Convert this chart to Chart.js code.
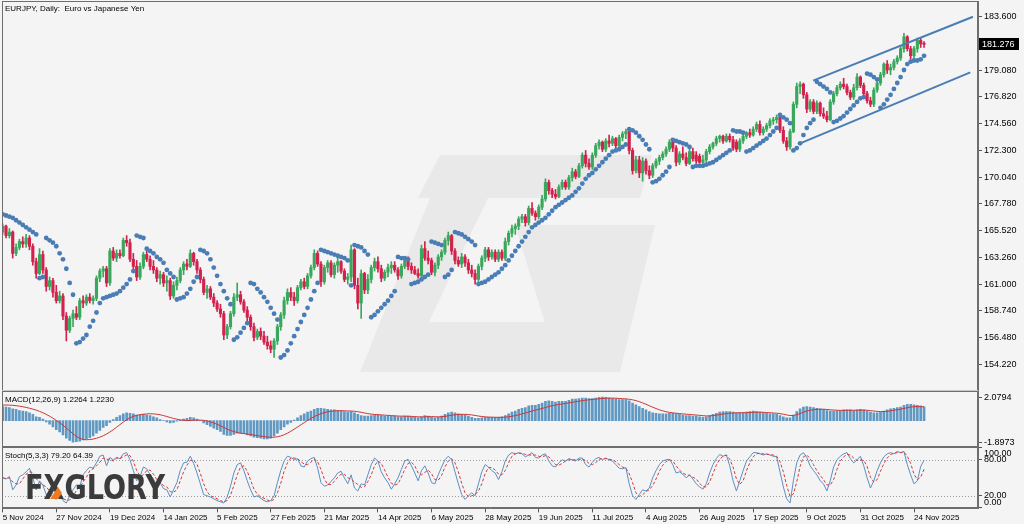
<!DOCTYPE html>
<html>
<head>
<meta charset="utf-8">
<script src="https://cdn.jsdelivr.net/npm/chart.js@4/dist/chart.umd.min.js"></script>
<style>
  html, body { margin: 0; padding: 0; background: #f4f4f4; }
  #wrap { position: relative; width: 1024px; height: 524px; }
</style>
</head>
<body>
<div id="wrap"><canvas id="myChart" width="1024" height="524"></canvas></div>
<script>
// EURJPY daily, 5 Nov 2024 .. 27 Nov 2025 (one entry per bar)
const tickLabels = ['5 Nov 2024', '27 Nov 2024', '19 Dec 2024', '14 Jan 2025', '5 Feb 2025', '27 Feb 2025',
    '21 Mar 2025', '14 Apr 2025', '6 May 2025', '28 May 2025', '19 Jun 2025', '11 Jul 2025', '4 Aug 2025',
    '26 Aug 2025', '17 Sep 2025', '9 Oct 2025', '31 Oct 2025', '24 Nov 2025'];
const barsPerLabel = 16;
const priceTicks = [183.6, 181.34, 179.08, 176.82, 174.56, 172.3, 170.04, 167.78, 165.52, 163.26, 161.0, 158.74, 156.48, 154.22];
const macdTicks = [2.0794, -1.8973];
const stochTicks = [100, 80, 20, 0];
const stochLevels = [80, 20];

const opens = [
    165.4, 165.9, 165.1, 165.4, 163.6, 164.1, 164.6, 164.4, 164.9, 164.2,
    162.9, 161.9, 163.5, 162.2, 160.8, 161.3, 160.3, 159.6, 160.0, 158.3,
    157.1, 158.1, 158.5, 158.2, 159.6, 159.4, 159.9, 159.6, 159.8, 161.5,
    162.1, 162.3, 161.1, 163.8, 163.2, 163.6, 163.4, 164.7, 164.5, 163.1,
    162.5, 161.6, 162.5, 163.5, 163.1, 162.5, 162.2, 161.5, 161.8, 161.1,
    161.3, 160.0, 160.9, 161.3, 162.2, 162.7, 162.5, 163.6, 162.9, 162.2,
    161.4, 160.3, 160.6, 159.9, 159.4, 158.9, 158.5, 156.7, 157.4, 158.5,
    159.9, 160.1, 159.5, 158.8, 158.2, 157.4, 156.5, 157.0, 156.6, 156.1,
    155.8, 155.5, 156.2, 157.4, 158.4, 159.6, 160.3, 159.9, 159.6, 160.7,
    161.2, 160.8, 161.7, 162.4, 163.6, 162.7, 161.2, 162.4, 162.8, 161.8,
    162.6, 162.9, 162.1, 161.4, 161.6, 163.9, 160.9, 159.4, 161.9, 160.5,
    161.4, 162.4, 162.9, 162.3, 161.5, 162.0, 162.4, 162.6, 162.2, 161.7,
    162.5, 163.0, 162.5, 162.2, 161.9, 161.7, 164.0, 163.2, 163.0, 162.0,
    162.6, 163.3, 163.7, 164.7, 165.1, 163.8, 163.0, 162.7, 163.3, 162.8,
    162.2, 161.9, 161.4, 162.5, 163.2, 163.9, 163.3, 163.7, 163.1, 163.7,
    163.2, 164.6, 165.3, 165.7, 165.9, 166.5, 166.7, 166.2, 167.4, 167.0,
    166.7, 167.5, 168.2, 169.6, 168.9, 168.6, 168.4, 169.2, 169.6, 169.2,
    170.0, 170.5, 170.1, 171.0, 171.9, 171.2, 170.9, 171.9, 172.7, 173.0,
    172.4, 173.1, 172.9, 173.3, 172.7, 173.4, 173.7, 173.9, 172.3, 170.6,
    171.5, 170.4, 171.4, 170.6, 170.2, 171.0, 171.4, 171.7, 172.0, 172.4,
    173.0, 172.5, 171.3, 172.0, 171.7, 171.2, 172.2, 171.9, 171.8, 171.3,
    171.5, 172.2, 172.6, 172.9, 173.3, 173.5, 173.1, 173.5, 173.2, 173.0,
    172.4, 173.1, 173.5, 173.8, 173.6, 174.1, 174.5, 173.8, 174.1, 174.4,
    174.8, 174.9, 175.1, 174.0, 173.1, 172.6, 173.9, 176.2, 177.7, 177.9,
    177.0, 175.8, 176.4, 175.6, 176.3, 175.4, 175.2, 174.9, 176.4, 177.1,
    177.6, 177.9, 177.7, 177.2, 176.8, 177.6, 178.5, 177.8, 177.1, 176.5,
    176.2, 177.4, 178.0, 178.7, 179.6, 179.1, 179.3, 179.8, 180.1, 180.9,
    181.9, 180.9, 180.3, 180.9, 181.6, 181.3
];
const highs = [
    166.1, 166.0, 165.7, 165.5, 164.4, 164.8, 165.0, 165.2, 165.1, 164.4,
    163.2, 164.0, 163.8, 162.4, 161.6, 161.5, 160.9, 160.4, 160.2, 158.6,
    158.3, 158.8, 159.1, 159.8, 160.0, 160.1, 160.2, 160.0, 161.7, 162.3,
    162.5, 162.5, 164.0, 164.1, 163.9, 163.9, 164.9, 165.1, 164.8, 163.6,
    163.0, 162.8, 163.7, 163.9, 163.4, 163.0, 162.4, 162.1, 162.0, 161.7,
    161.5, 161.2, 161.6, 162.4, 162.9, 163.1, 163.9, 163.7, 163.1, 162.4,
    161.6, 160.9, 160.8, 160.2, 159.6, 159.3, 158.7, 157.6, 158.7, 160.2,
    161.1, 160.4, 159.7, 159.1, 158.4, 157.7, 157.2, 157.3, 157.0, 156.6,
    156.2, 156.4, 157.6, 158.6, 159.9, 160.6, 160.7, 160.3, 160.9, 161.4,
    161.5, 161.9, 162.6, 163.9, 163.8, 162.9, 162.6, 163.0, 163.0, 162.8,
    163.2, 163.0, 162.3, 161.9, 164.3, 164.0, 161.5, 162.2, 162.0, 161.8,
    162.6, 163.2, 163.3, 162.6, 162.2, 162.7, 162.9, 162.9, 162.4, 162.7,
    163.3, 163.3, 162.8, 162.5, 162.3, 164.3, 164.6, 163.8, 163.2, 162.8,
    163.5, 163.9, 164.9, 165.4, 165.2, 164.0, 163.3, 163.6, 163.5, 163.1,
    162.6, 162.2, 162.7, 163.4, 164.1, 164.1, 163.9, 163.9, 163.9, 163.9,
    164.9, 165.5, 166.0, 166.1, 166.7, 166.9, 166.9, 167.6, 167.9, 167.2,
    167.7, 168.5, 169.9, 169.8, 169.1, 169.0, 169.4, 169.8, 169.8, 170.2,
    170.8, 170.7, 171.2, 172.1, 172.3, 171.6, 172.1, 172.9, 173.2, 173.1,
    173.3, 173.6, 173.5, 173.4, 173.6, 173.9, 174.1, 174.1, 172.5, 171.8,
    171.8, 171.7, 171.6, 171.0, 171.2, 171.6, 171.9, 172.2, 172.6, 173.2,
    173.1, 172.7, 172.2, 172.6, 172.1, 172.4, 172.5, 172.2, 172.0, 171.9,
    172.4, 172.8, 173.0, 173.5, 173.6, 173.6, 173.7, 173.7, 173.5, 173.2,
    173.3, 173.7, 173.9, 174.1, 174.3, 174.7, 174.8, 174.3, 174.6, 175.0,
    175.1, 175.3, 175.3, 174.3, 173.4, 174.1, 176.4, 178.0, 178.1, 178.0,
    177.2, 176.6, 176.6, 176.5, 176.4, 175.9, 175.6, 176.6, 177.3, 177.8,
    178.1, 178.4, 177.9, 177.4, 177.9, 178.8, 178.6, 178.0, 177.3, 176.8,
    177.6, 178.2, 178.9, 179.7, 179.9, 179.6, 180.0, 180.3, 181.1, 182.2,
    182.0, 181.1, 181.1, 181.8, 181.8, 181.5
];
const lows = [
    165.2, 164.9, 164.9, 163.2, 163.4, 163.9, 164.1, 164.1, 163.9, 162.6,
    161.5, 161.8, 161.9, 160.4, 160.5, 159.9, 159.4, 159.4, 158.0, 156.2,
    156.9, 157.4, 158.0, 158.0, 159.0, 159.2, 159.4, 159.3, 159.6, 161.2,
    161.6, 160.8, 160.9, 163.0, 162.9, 163.2, 163.3, 164.2, 162.9, 162.2,
    161.3, 161.4, 162.3, 162.9, 162.2, 161.9, 161.2, 161.0, 160.8, 160.4,
    159.7, 159.8, 160.5, 161.1, 161.8, 162.2, 162.4, 162.6, 161.9, 161.1,
    160.1, 159.8, 159.7, 159.1, 158.7, 158.2, 156.3, 156.4, 157.2, 158.3,
    159.6, 159.3, 158.6, 157.9, 157.1, 156.2, 156.3, 156.3, 155.9, 155.5,
    155.2, 154.8, 155.9, 157.1, 158.1, 159.3, 159.6, 159.2, 159.4, 160.5,
    160.6, 160.6, 161.5, 162.2, 162.5, 160.8, 161.0, 162.0, 161.6, 161.5,
    162.0, 161.9, 161.2, 161.0, 161.2, 160.6, 158.9, 158.1, 160.2, 160.2,
    161.1, 162.1, 162.0, 161.2, 161.3, 161.6, 161.9, 162.0, 161.4, 161.5,
    162.3, 162.2, 161.9, 161.8, 161.5, 161.5, 163.0, 162.7, 161.8, 161.7,
    162.3, 163.0, 163.5, 164.3, 163.5, 162.7, 162.5, 162.4, 162.5, 161.9,
    161.6, 161.0, 161.2, 162.2, 162.9, 163.0, 163.1, 162.9, 162.9, 163.0,
    163.0, 164.3, 165.0, 165.2, 165.6, 166.2, 165.9, 166.0, 166.8, 166.4,
    166.5, 167.3, 168.0, 168.6, 168.3, 168.2, 168.3, 169.0, 169.0, 169.0,
    169.7, 169.9, 170.0, 170.8, 170.9, 170.7, 170.7, 171.7, 172.4, 172.2,
    172.2, 172.6, 172.7, 172.5, 172.5, 173.1, 173.3, 172.0, 170.3, 170.4,
    170.0, 169.7, 170.3, 169.9, 170.0, 170.8, 171.1, 171.5, 171.8, 172.2,
    172.2, 171.0, 171.1, 171.5, 171.0, 171.1, 171.4, 171.2, 171.2, 171.1,
    171.3, 172.0, 172.4, 172.7, 173.0, 172.9, 173.0, 173.0, 172.3, 172.2,
    172.2, 172.9, 173.3, 173.4, 173.5, 173.9, 173.6, 173.6, 173.9, 174.2,
    174.5, 174.6, 173.8, 172.9, 172.3, 172.4, 173.8, 175.9, 177.1, 176.7,
    175.5, 175.6, 175.4, 175.4, 175.2, 175.0, 174.7, 174.8, 176.2, 176.9,
    177.4, 177.5, 177.0, 176.6, 176.6, 177.4, 177.6, 176.9, 176.3, 176.0,
    176.0, 177.2, 177.8, 178.5, 178.8, 178.7, 179.1, 179.6, 179.9, 180.6,
    180.7, 180.0, 180.1, 180.6, 181.0, 181.0
];
const closes = [
    165.9, 165.1, 165.4, 163.6, 164.1, 164.6, 164.4, 164.9, 164.2, 162.9,
    161.9, 163.5, 162.2, 160.8, 161.3, 160.3, 159.6, 160.0, 158.3, 157.1,
    158.1, 158.5, 158.2, 159.6, 159.4, 159.9, 159.6, 159.8, 161.5, 162.1,
    162.3, 161.1, 163.8, 163.2, 163.6, 163.4, 164.7, 164.5, 163.1, 162.5,
    161.6, 162.5, 163.5, 163.1, 162.5, 162.2, 161.5, 161.8, 161.1, 161.3,
    160.0, 160.9, 161.3, 162.2, 162.7, 162.5, 163.6, 162.9, 162.2, 161.4,
    160.3, 160.6, 159.9, 159.4, 158.9, 158.5, 156.7, 157.4, 158.5, 159.9,
    160.1, 159.5, 158.8, 158.2, 157.4, 156.5, 157.0, 156.6, 156.1, 155.8,
    155.5, 156.2, 157.4, 158.4, 159.6, 160.3, 159.9, 159.6, 160.7, 161.2,
    160.8, 161.7, 162.4, 163.6, 162.7, 161.2, 162.4, 162.8, 161.8, 162.6,
    162.9, 162.1, 161.4, 161.6, 163.9, 160.9, 159.4, 161.9, 160.5, 161.4,
    162.4, 162.9, 162.3, 161.5, 162.0, 162.4, 162.6, 162.2, 161.7, 162.5,
    163.0, 162.5, 162.2, 161.9, 161.7, 164.0, 163.2, 163.0, 162.0, 162.6,
    163.3, 163.7, 164.7, 165.1, 163.8, 163.0, 162.7, 163.3, 162.8, 162.2,
    161.9, 161.4, 162.5, 163.2, 163.9, 163.3, 163.7, 163.1, 163.7, 163.2,
    164.6, 165.3, 165.7, 165.9, 166.5, 166.7, 166.2, 167.4, 167.0, 166.7,
    167.5, 168.2, 169.6, 168.9, 168.6, 168.4, 169.2, 169.6, 169.2, 170.0,
    170.5, 170.1, 171.0, 171.9, 171.2, 170.9, 171.9, 172.7, 173.0, 172.4,
    173.1, 172.9, 173.3, 172.7, 173.4, 173.7, 173.9, 172.3, 170.6, 171.5,
    170.4, 171.4, 170.6, 170.2, 171.0, 171.4, 171.7, 172.0, 172.4, 173.0,
    172.5, 171.3, 172.0, 171.7, 171.2, 172.2, 171.6, 171.4, 171.3, 171.5,
    172.2, 172.6, 172.9, 173.3, 173.5, 173.1, 173.5, 173.2, 172.5, 172.4,
    173.1, 173.5, 173.8, 173.6, 174.1, 174.5, 173.8, 174.1, 174.4, 174.8,
    174.9, 175.1, 174.0, 173.1, 172.6, 173.9, 176.2, 177.7, 177.9, 177.0,
    175.8, 176.4, 175.6, 176.3, 175.4, 175.2, 174.9, 176.4, 177.1, 177.6,
    177.9, 177.7, 177.2, 176.8, 177.6, 178.5, 177.8, 177.1, 176.5, 176.2,
    177.4, 178.0, 178.7, 179.6, 179.1, 179.3, 179.8, 180.1, 180.9, 181.9,
    180.9, 180.3, 180.9, 181.6, 181.3, 181.276
];
// Parabolic SAR dots
const sar = [
    166.9, 166.8, 166.7, 166.6, 166.4, 166.2, 166.0, 165.8, 165.6, 165.4,
    165.2, 161.5, 161.6, 164.9, 164.7, 164.5, 164.2, 163.6, 163.1, 162.3,
    161.1, 160.1, 156.0, 156.1, 156.4, 156.7, 157.4, 157.9, 158.6, 159.4,
    159.8, 159.9, 160.0, 160.1, 160.2, 160.4, 160.7, 161.0, 161.4, 162.1,
    165.1, 165.0, 164.9, 164.0, 163.8, 163.6, 163.3, 163.1, 162.8, 162.2,
    161.9, 161.6, 159.7, 159.8, 159.9, 160.2, 160.6, 161.2, 161.6, 163.9,
    163.8, 163.6, 163.1, 162.4, 161.7, 161.0, 160.4, 159.8, 159.3, 156.3,
    156.5, 156.9, 157.3, 157.7, 161.1, 161.0, 160.6, 160.3, 159.9, 159.5,
    159.0, 158.5, 158.0, 154.8, 155.0, 155.4, 156.0, 156.6, 157.2, 157.8,
    158.4, 159.0, 159.7, 160.4, 161.1, 163.9, 163.8, 163.7, 163.6, 163.5,
    163.4, 163.3, 163.2, 163.0, 160.9, 164.3, 164.2, 164.1, 163.8, 163.5,
    158.2, 158.4, 158.7, 159.0, 159.3, 159.6, 160.0, 160.4, 163.3, 163.2,
    163.2, 163.1, 161.0, 161.1, 161.2, 161.4, 161.6, 161.8, 164.6, 164.5,
    164.4, 164.3, 161.6, 161.8, 162.2, 165.4, 165.3, 165.2, 165.0, 164.8,
    164.6, 164.3, 161.0, 161.1, 161.2, 161.4, 161.6, 161.8, 162.0, 162.3,
    162.6, 163.0, 163.4, 163.8, 164.2, 164.6, 165.0, 165.4, 165.8, 166.0,
    166.2, 166.4, 166.6, 166.9, 167.2, 167.5, 167.7, 167.9, 168.1, 168.3,
    168.5, 168.8, 169.1, 169.5, 169.9, 170.2, 170.4, 170.7, 171.0, 171.3,
    171.6, 171.9, 172.2, 172.3, 172.4, 172.6, 172.8, 174.1, 174.0, 173.8,
    173.5, 173.2, 172.8, 172.4, 169.6, 169.7, 169.9, 170.2, 170.5, 170.9,
    173.2, 173.1, 173.0, 172.9, 172.8, 172.6, 170.9, 171.0, 171.0, 171.0,
    171.1, 171.2, 171.3, 171.5, 171.7, 171.9, 172.1, 172.3, 174.0, 173.9,
    173.9, 173.8, 172.2, 172.3, 172.5, 172.7, 172.9, 173.1, 173.3, 173.6,
    173.9, 174.2, 175.3, 175.1, 174.9, 174.6, 172.3, 172.5, 172.9, 173.6,
    174.2, 174.6, 174.9, 178.1, 177.9, 177.7, 177.5, 177.2, 174.7, 174.8,
    175.0, 175.2, 175.5, 175.8, 176.1, 176.4, 176.7, 176.8, 178.8, 178.7,
    178.5, 178.3, 175.9, 176.2, 176.6, 177.0, 177.5, 178.0, 178.5, 179.1,
    179.6, 179.8, 179.9, 179.9, 180.0, 180.3
];
// MACD(12,26,9): main (histogram) and signal (line)
const macdMain = [
    1.25, 1.2, 1.15, 1.05, 1.0, 0.9, 0.85, 0.8, 0.7, 0.55,
    0.35, 0.3, 0.15, -0.1, -0.3, -0.55, -0.8, -1.0, -1.25, -1.55,
    -1.75, -1.9, -1.85, -1.8, -1.7, -1.6, -1.5, -1.35, -1.1, -0.85,
    -0.6, -0.45, -0.15, 0.1, 0.3, 0.45, 0.6, 0.7, 0.65, 0.6,
    0.5, 0.5, 0.55, 0.5, 0.45, 0.35, 0.25, 0.1, 0.0, -0.1,
    -0.2, -0.15, -0.05, 0.05, 0.15, 0.2, 0.3, 0.25, 0.15, 0.0,
    -0.2, -0.35, -0.5, -0.65, -0.8, -0.95, -1.2, -1.3, -1.3, -1.2,
    -1.1, -1.1, -1.15, -1.25, -1.35, -1.45, -1.5, -1.55, -1.6, -1.6,
    -1.55, -1.35, -1.1, -0.8, -0.55, -0.3, -0.15, 0.05, 0.25, 0.45,
    0.6, 0.75, 0.85, 1.0, 1.1, 1.1, 1.05, 1.0, 0.95, 0.95,
    0.9, 0.85, 0.8, 0.75, 0.8, 0.7, 0.55, 0.45, 0.4, 0.4,
    0.45, 0.5, 0.5, 0.45, 0.4, 0.4, 0.4, 0.4, 0.35, 0.35,
    0.4, 0.4, 0.35, 0.3, 0.25, 0.35, 0.45, 0.4, 0.3, 0.25,
    0.3, 0.4, 0.55, 0.7, 0.75, 0.7, 0.6, 0.55, 0.5, 0.4,
    0.3, 0.2, 0.2, 0.25, 0.3, 0.3, 0.3, 0.3, 0.3, 0.35,
    0.45, 0.6, 0.75, 0.85, 1.0, 1.1, 1.15, 1.3, 1.35, 1.35,
    1.45, 1.55, 1.7, 1.75, 1.7, 1.65, 1.7, 1.7, 1.7, 1.8,
    1.9, 1.9, 1.95, 2.0, 2.0, 1.95, 1.95, 2.0, 2.05, 2.08,
    2.05, 2.0, 1.95, 1.9, 1.85, 1.85, 1.85, 1.75, 1.55, 1.4,
    1.25, 1.1, 0.95, 0.8, 0.7, 0.65, 0.6, 0.6, 0.6, 0.65,
    0.65, 0.6, 0.55, 0.5, 0.45, 0.45, 0.4, 0.4, 0.35, 0.3,
    0.35, 0.45, 0.55, 0.65, 0.75, 0.8, 0.8, 0.8, 0.75, 0.7,
    0.7, 0.7, 0.75, 0.8, 0.85, 0.8, 0.75, 0.7, 0.65, 0.6,
    0.6, 0.55, 0.45, 0.35, 0.25, 0.25, 0.5, 0.8, 1.05, 1.2,
    1.25, 1.2, 1.15, 1.1, 1.05, 1.0, 0.9, 0.85, 0.85, 0.85,
    0.9, 0.95, 0.95, 0.95, 0.9, 0.95, 1.0, 0.95, 0.85, 0.75,
    0.7, 0.7, 0.75, 0.85, 0.95, 1.05, 1.1, 1.15, 1.2, 1.35,
    1.45, 1.45, 1.4, 1.35, 1.3, 1.2264
];
const macdSignal = [
    1.38, 1.38, 1.37, 1.35, 1.32, 1.28, 1.23, 1.17, 1.1, 1.02,
    0.93, 0.82, 0.7, 0.56, 0.4, 0.22, 0.03, -0.18, -0.4, -0.65,
    -0.9, -1.15, -1.38, -1.55, -1.66, -1.68, -1.66, -1.62, -1.55, -1.45,
    -1.33, -1.18, -1.0, -0.8, -0.58, -0.35, -0.12, 0.08, 0.25, 0.38,
    0.47, 0.53, 0.57, 0.6, 0.61, 0.6, 0.57, 0.52, 0.45, 0.37,
    0.28, 0.2, 0.13, 0.07, 0.03, 0.01, 0.02, 0.04, 0.05, 0.05,
    0.03, -0.02, -0.1, -0.2, -0.32, -0.46, -0.6, -0.74, -0.86, -0.96,
    -1.04, -1.1, -1.14, -1.18, -1.22, -1.27, -1.31, -1.36, -1.4, -1.44,
    -1.46, -1.46, -1.42, -1.35, -1.24, -1.1, -0.93, -0.75, -0.56, -0.36,
    -0.17, 0.02, 0.2, 0.36, 0.5, 0.62, 0.71, 0.78, 0.83, 0.86,
    0.88, 0.88, 0.87, 0.86, 0.85, 0.83, 0.79, 0.74, 0.68, 0.62,
    0.58, 0.55, 0.53, 0.51, 0.49, 0.47, 0.45, 0.43, 0.41, 0.4,
    0.4, 0.39, 0.38, 0.36, 0.34, 0.33, 0.34, 0.36, 0.36, 0.35,
    0.34, 0.35, 0.38, 0.43, 0.48, 0.52, 0.55, 0.56, 0.56, 0.54,
    0.51, 0.46, 0.41, 0.37, 0.34, 0.32, 0.31, 0.3, 0.3, 0.3,
    0.31, 0.34, 0.39, 0.45, 0.52, 0.6, 0.68, 0.76, 0.85, 0.93,
    1.0, 1.08, 1.16, 1.25, 1.32, 1.38, 1.43, 1.48, 1.52, 1.57,
    1.62, 1.67, 1.72, 1.77, 1.81, 1.84, 1.87, 1.9, 1.93, 1.96,
    1.98, 1.99, 1.99, 1.98, 1.96, 1.94, 1.92, 1.89, 1.84, 1.77,
    1.68, 1.57, 1.45, 1.32, 1.19, 1.07, 0.96, 0.87, 0.79, 0.73,
    0.69, 0.66, 0.63, 0.6, 0.57, 0.55, 0.52, 0.5, 0.47, 0.44,
    0.42, 0.42, 0.45, 0.49, 0.54, 0.59, 0.63, 0.66, 0.68, 0.69,
    0.7, 0.7, 0.71, 0.72, 0.74, 0.75, 0.75, 0.74, 0.72, 0.7,
    0.68, 0.66, 0.62, 0.57, 0.51, 0.45, 0.46, 0.53, 0.63, 0.75,
    0.85, 0.92, 0.97, 1.0, 1.01, 1.01, 0.99, 0.96, 0.94, 0.92,
    0.91, 0.91, 0.92, 0.92, 0.92, 0.92, 0.93, 0.93, 0.92, 0.89,
    0.85, 0.82, 0.8, 0.81, 0.83, 0.87, 0.92, 0.97, 1.02, 1.08,
    1.15, 1.2, 1.23, 1.24, 1.23, 1.223
];
// Stochastic(5,3,3): %K and %D
const stochK = [
    50, 48, 52, 30, 38, 52, 55, 60, 66, 50,
    30, 45, 38, 22, 25, 18, 14, 20, 12, 8,
    20, 30, 38, 35, 55, 62, 68, 66, 75, 86,
    88, 70, 84, 80, 84, 82, 90, 92, 80, 62,
    45, 52, 68, 65, 55, 48, 38, 42, 32, 30,
    18, 30, 42, 62, 75, 76, 86, 74, 58, 40,
    22, 20, 18, 15, 12, 10, 8, 18, 36, 58,
    72, 75, 62, 45, 30, 18, 20, 16, 12, 10,
    12, 20, 42, 62, 78, 86, 84, 80, 82, 70,
    68, 78, 82, 84, 66, 42, 36, 38, 44, 50,
    58, 61, 50, 40, 55, 33, 28, 40, 38, 55,
    72, 83, 78, 60, 50, 42, 31, 40, 50, 64,
    78, 81, 70, 58, 45, 62, 70, 58, 42, 40,
    55, 68, 80, 86, 80, 60, 40, 22, 14, 20,
    25, 20, 40, 60, 72, 68, 62, 58, 47, 60,
    78, 88, 92, 90, 92, 90, 85, 88, 92, 84,
    83, 88, 90, 78, 70, 68, 75, 80, 78, 82,
    80, 78, 83, 83, 72, 68, 76, 82, 84, 80,
    83, 80, 78, 72, 66, 65, 67, 40, 20, 14,
    22, 30, 28, 33, 50, 62, 72, 78, 80, 81,
    72, 58, 60, 56, 50, 55, 48, 40, 35, 31,
    40, 58, 72, 82, 89, 86, 88, 70, 45, 28,
    45, 62, 78, 85, 92, 92, 90, 88, 90, 88,
    86, 85, 60, 35, 15, 8, 45, 75, 88, 92,
    84, 70, 62, 55, 45, 40, 28, 45, 68, 80,
    86, 90, 92, 82, 75, 80, 86, 70, 50, 33,
    45, 62, 75, 85, 90, 92, 90, 94, 92, 94,
    72, 55, 40, 45, 69, 79.2
];
const stochD = [
    50, 49, 50, 43, 40, 40, 48, 56, 60, 59,
    49, 42, 38, 35, 28, 22, 19, 17, 15, 13,
    13, 19, 29, 34, 43, 51, 62, 65, 70, 76,
    83, 81, 81, 78, 83, 82, 85, 88, 87, 78,
    62, 53, 55, 62, 63, 56, 47, 43, 37, 35,
    27, 26, 30, 45, 60, 71, 79, 79, 73, 57,
    40, 27, 20, 18, 15, 12, 10, 12, 21, 37,
    55, 68, 70, 61, 46, 31, 23, 18, 16, 13,
    11, 14, 25, 41, 61, 75, 83, 83, 82, 77,
    73, 72, 76, 81, 77, 64, 48, 39, 39, 44,
    51, 56, 56, 50, 48, 43, 39, 34, 35, 44,
    55, 70, 78, 74, 63, 51, 41, 38, 40, 51,
    64, 74, 76, 70, 58, 55, 59, 63, 57, 47,
    46, 54, 68, 78, 82, 75, 60, 41, 25, 19,
    20, 22, 28, 40, 57, 67, 67, 63, 56, 55,
    62, 75, 86, 90, 91, 91, 89, 88, 88, 88,
    86, 85, 87, 85, 79, 72, 71, 74, 78, 80,
    80, 80, 80, 81, 79, 74, 72, 75, 81, 82,
    82, 81, 80, 77, 72, 68, 66, 57, 42, 25,
    19, 22, 27, 30, 37, 48, 61, 71, 77, 80,
    78, 70, 63, 58, 55, 54, 51, 48, 41, 35,
    35, 43, 57, 71, 81, 86, 88, 81, 68, 48,
    39, 45, 62, 75, 85, 90, 91, 90, 89, 89,
    88, 86, 77, 60, 37, 19, 23, 43, 69, 85,
    88, 82, 72, 62, 54, 47, 38, 38, 47, 64,
    78, 85, 89, 88, 83, 79, 80, 79, 69, 51,
    43, 47, 61, 74, 83, 89, 91, 92, 92, 93,
    86, 74, 56, 47, 51, 64.39
];
// hand-drawn rising channel: bar index / price at both ends
const channelUpper = [{ bar: 241.9, price: 178.2 }, { bar: 289.6, price: 183.6 }];
const channelLower = [{ bar: 238.0, price: 172.9 }, { bar: 288.8, price: 178.9 }];

const upColor = '#3aa85c';
const downColor = '#d3214d';
const sarColor = '#4a7db5';
const numberFont = { family: 'Liberation Sans', size: 9 };
const labelFont = { family: 'Liberation Sans', size: 8 };
const captionFont = '8px "Liberation Sans"';
const last = closes.length - 1;

const candleColors = closes.map(function (c, i) {
    return c >= opens[i] ? upColor : downColor;
});

const panelPlugin = {
    id: 'panels',
    beforeDatasetsDraw(chart) {
        const ctx = chart.ctx;
        const a = chart.chartArea;
        const yMain = chart.scales.y;
        const yStoch = chart.scales.yStoch;
        ctx.save();
        ctx.beginPath();
        ctx.rect(a.left, yMain.top, a.right - a.left, yMain.bottom - yMain.top);
        ctx.clip();
        // watermark logo
        ctx.fillStyle = '#e9e9e9';
        const polys = [
            [[440, 155], [652, 155], [640, 198], [418, 198]],
            [[430, 198], [488, 198], [405, 372], [360, 372]],
            [[385, 322], [600, 322], [588, 372], [362, 372]],
            [[515, 225], [655, 225], [620, 372], [560, 372]]
        ];
        polys.forEach(function (p) {
            ctx.beginPath();
            ctx.moveTo(p[0][0], p[0][1]);
            for (let k = 1; k < p.length; k++) ctx.lineTo(p[k][0], p[k][1]);
            ctx.closePath();
            ctx.fill();
        });
        ctx.restore();

        // stochastic levels
        ctx.save();
        ctx.strokeStyle = '#9a9a9a';
        ctx.lineWidth = 1;
        ctx.setLineDash([1, 2]);
        stochLevels.forEach(function (lv) {
            const y = Math.round(yStoch.getPixelForValue(lv)) + 0.5;
            ctx.beginPath();
            ctx.moveTo(a.left, y);
            ctx.lineTo(a.right, y);
            ctx.stroke();
        });
        ctx.restore();
    },
    afterDraw(chart) {
        const ctx = chart.ctx;
        const a = chart.chartArea;
        const yMain = chart.scales.y;
        const yMacd = chart.scales.yMacd;
        const yStoch = chart.scales.yStoch;
        ctx.save();
        // panel frames
        ctx.strokeStyle = '#6e6e6e';
        ctx.lineWidth = 1;
        [yMain, yMacd, yStoch].forEach(function (s) {
            ctx.strokeRect(a.left + 0.5, Math.round(s.top) + 0.5, a.right - a.left - 1, Math.round(s.bottom - s.top) - 1);
        });
        ctx.fillStyle = '#c8c8c8';
        ctx.fillRect(a.left, Math.round(yMain.bottom) - 1, a.right - a.left, 1);

        // indicator captions
        ctx.fillStyle = '#000';
        ctx.font = captionFont;
        ctx.textBaseline = 'middle';
        ctx.textAlign = 'left';
        ctx.fillText('EURJPY, Daily:  Euro vs Japanese Yen', a.left + 3, yMain.top + 8);
        ctx.fillText('MACD(12,26,9) ' + macdMain[last].toFixed(4) + ' ' + macdSignal[last].toFixed(4), a.left + 3, yMacd.top + 9);
        ctx.fillText('Stoch(5,3,3) ' + stochK[last].toFixed(2) + ' ' + stochD[last].toFixed(2), a.left + 3, yStoch.top + 9);

        // stochastic end labels sit inside the pane, as in the terminal
        ctx.font = '9px "Liberation Sans"';
        ctx.fillText(stochTicks[0].toFixed(2), a.right + 6, yStoch.getPixelForValue(stochTicks[0]) + 6);
        ctx.fillText(stochTicks[3].toFixed(2), a.right + 6, yStoch.getPixelForValue(stochTicks[3]) - 5);

        // current price tag
        const py = yMain.getPixelForValue(closes[last]);
        ctx.fillStyle = '#000';
        ctx.fillRect(a.right + 1, Math.round(py) - 6, 40, 12);
        ctx.fillStyle = '#fff';
        ctx.fillText(closes[last].toFixed(3), a.right + 4, py);

        // brand logo
        ctx.font = 'bold 34px "DejaVu Sans"';
        ctx.textBaseline = 'alphabetic';
        ctx.fillStyle = '#3b3b3b';
        ctx.fillText('FXGLORY', 25, 499, 140);
        ctx.fillStyle = '#f07a22';
        ctx.beginPath();
        ctx.moveTo(50, 499);
        ctx.lineTo(58, 487);
        ctx.lineTo(62, 493);
        ctx.lineTo(58, 499);
        ctx.closePath();
        ctx.fill();
        ctx.restore();
    }
};

function fixedTicks(values) {
    return function (scale) {
        scale.ticks = values.map(function (v) { return { value: v }; });
    };
}
// right-hand price columns: fixed width, no extra room for the end labels
function rightAxisFit(scale) {
    scale.width = 46;
    scale.paddingTop = 0;
    scale.paddingBottom = 0;
}
function bottomAxisFit(scale) {
    scale.paddingLeft = 0;
    scale.paddingRight = 0;
}

const ctx = document.getElementById('myChart').getContext('2d');
const myChart = new Chart(ctx, {
    type: 'bar',
    data: {
        datasets: [
            {
                type: 'line',
                label: 'channel up',
                data: channelUpper.map(function (p) { return { x: p.bar, y: p.price }; }),
                borderColor: sarColor,
                borderWidth: 2,
                pointRadius: 0,
                yAxisID: 'y',
                order: 0
            },
            {
                type: 'line',
                label: 'channel down',
                data: channelLower.map(function (p) { return { x: p.bar, y: p.price }; }),
                borderColor: sarColor,
                borderWidth: 2,
                pointRadius: 0,
                yAxisID: 'y',
                order: 0
            },
            {
                type: 'line',
                label: 'SAR',
                data: sar.map(function (v, i) { return { x: i, y: v }; }),
                showLine: false,
                pointRadius: 2.4,
                pointBorderWidth: 0,
                pointBackgroundColor: sarColor,
                borderColor: sarColor,
                yAxisID: 'y',
                order: 1
            },
            {
                label: 'bodies',
                data: closes.map(function (c, i) { return { x: i, y: [opens[i], c] }; }),
                backgroundColor: candleColors,
                barThickness: 2.5,
                minBarLength: 1,
                grouped: false,
                yAxisID: 'y',
                order: 2
            },
            {
                label: 'wicks',
                data: closes.map(function (c, i) { return { x: i, y: [lows[i], highs[i]] }; }),
                backgroundColor: candleColors,
                barThickness: 1,
                grouped: false,
                yAxisID: 'y',
                order: 3
            },
            {
                label: 'MACD',
                data: macdMain.map(function (v, i) { return { x: i, y: v }; }),
                backgroundColor: '#5f98c2',
                barThickness: 2,
                grouped: false,
                yAxisID: 'yMacd',
                order: 5
            },
            {
                type: 'line',
                label: 'Signal',
                data: macdSignal.map(function (v, i) { return { x: i, y: v }; }),
                borderColor: '#cf3535',
                borderWidth: 1,
                pointRadius: 0,
                yAxisID: 'yMacd',
                order: 4
            },
            {
                type: 'line',
                label: '%K',
                data: stochK.map(function (v, i) { return { x: i, y: v }; }),
                borderColor: '#5b8fc4',
                borderWidth: 1,
                pointRadius: 0,
                yAxisID: 'yStoch',
                order: 6
            },
            {
                type: 'line',
                label: '%D',
                data: stochD.map(function (v, i) { return { x: i, y: v }; }),
                borderColor: '#d33a3a',
                borderWidth: 1,
                borderDash: [3, 2],
                pointRadius: 0,
                yAxisID: 'yStoch',
                order: 5
            }
        ]
    },
    options: {
        responsive: false,
        animation: false,
        devicePixelRatio: 1,
        layout: { autoPadding: false, padding: { left: 2, top: 1, right: 0, bottom: 0 } },
        plugins: { legend: { display: false }, tooltip: { enabled: false } },
        scales: {
            x: {
                type: 'linear',
                offset: false,
                min: -0.2,
                max: 291.1,
                afterBuildTicks: fixedTicks(tickLabels.map(function (t, i) { return i * barsPerLabel; })),
                afterFit: bottomAxisFit,
                ticks: {
                    callback: function (v) { return tickLabels[Math.round(v / barsPerLabel)]; },
                    align: 'start',
                    autoSkip: false,
                    maxRotation: 0,
                    padding: 1,
                    color: '#000',
                    font: labelFont
                },
                grid: { offset: false, drawOnChartArea: false, tickLength: 4, color: '#555' },
                border: { color: '#6e6e6e' }
            },
            y: {
                position: 'right',
                stack: 'panes',
                stackWeight: 389,
                min: 151.96,
                max: 184.93,
                afterBuildTicks: fixedTicks(priceTicks),
                afterFit: rightAxisFit,
                ticks: {
                    callback: function (v) { return v.toFixed(3); },
                    autoSkip: false,
                    padding: 2,
                    color: '#000',
                    font: numberFont
                },
                grid: { drawOnChartArea: false, tickLength: 4, color: '#555' },
                border: { color: '#6e6e6e' }
            },
            yMacd: {
                position: 'right',
                stack: 'panes',
                stackWeight: 56,
                min: -2.34,
                max: 2.61,
                afterBuildTicks: fixedTicks(macdTicks),
                afterFit: rightAxisFit,
                ticks: {
                    callback: function (v) { return v.toFixed(4); },
                    autoSkip: false,
                    padding: 2,
                    color: '#000',
                    font: numberFont
                },
                grid: { drawOnChartArea: false, tickLength: 4, color: '#555' },
                border: { color: '#6e6e6e' }
            },
            yStoch: {
                position: 'right',
                stack: 'panes',
                stackWeight: 61,
                min: -1,
                max: 101,
                afterBuildTicks: fixedTicks(stochTicks),
                afterFit: rightAxisFit,
                ticks: {
                    // the 100 and 0 labels are drawn by the plugin, nudged inward
                    callback: function (v) { return (v === stochTicks[0] || v === stochTicks[3]) ? '' : v.toFixed(2); },
                    autoSkip: false,
                    padding: 2,
                    color: '#000',
                    font: numberFont
                },
                grid: { drawOnChartArea: false, tickLength: 4, color: '#555' },
                border: { color: '#6e6e6e' }
            }
        }
    },
    plugins: [panelPlugin]
});
</script>
</body>
</html>
